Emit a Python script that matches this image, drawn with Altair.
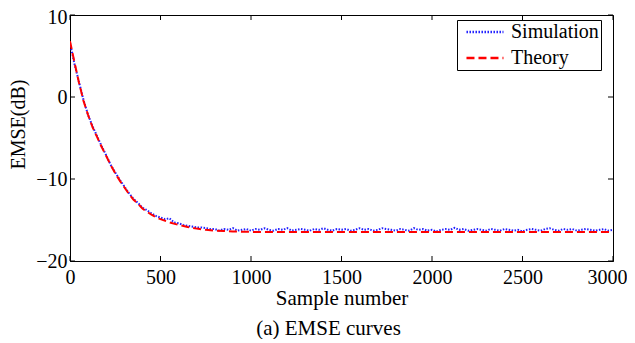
import altair as alt
import pandas as pd

# ---- data ----
sim_n = list(range(0, 3001, 25))
sim_db = [6.6, 4.0, 1.8, -0.4, -2.2, -3.6, -4.8, -6.0, -7.1, -8.3,
          -9.2, -10.1, -10.9, -11.7, -12.4, -12.9, -13.5, -13.8, -14.2, -14.5,
          -14.7, -14.9, -14.8, -15.3, -15.4, -15.6, -15.7, -15.8, -15.9, -15.9,
          -16.0, -16.1, -16.1, -16.3, -16.1, -16.2, -16.0, -16.3, -16.2, -16.1,
          -16.3, -16.1, -16.2, -16.0, -16.2, -16.3, -16.1, -16.2, -16.0, -16.3,
          -16.2, -16.1, -16.2, -16.3, -16.1, -16.2, -16.0, -16.2, -16.3, -16.1,
          -16.2, -16.1, -16.3, -16.2, -16.0, -16.2, -16.1, -16.3, -16.2, -16.0,
          -16.1, -16.2, -16.3, -16.1, -16.2, -16.3, -16.0, -16.2, -16.1, -16.3,
          -16.2, -16.4, -16.2, -16.1, -16.2, -15.95, -16.2, -16.1, -16.3, -16.2,
          -16.1, -16.2, -16.3, -16.1, -16.2, -16.3, -16.1, -16.2, -16.3, -16.2,
          -16.4, -16.2, -16.1, -16.2, -16.3, -16.1, -16.0, -16.2, -16.3, -16.1,
          -16.2, -16.1, -16.3, -16.2, -16.1, -16.2, -16.3, -16.2, -16.1, -16.3,
          -16.2]
assert len(sim_n) == len(sim_db)

theory_n = [0, 25, 50, 75, 100, 125, 150, 175, 200, 225, 250, 275, 300, 325, 350,
            375, 400, 425, 450, 475, 500, 550, 600, 650, 700, 750, 800, 850, 900,
            1000, 1200, 1500, 2000, 2500, 3000]
theory_db = [6.8, 4.2, 1.7, -0.5, -2.2, -3.7, -4.9, -6.1, -7.2, -8.3, -9.3, -10.2,
             -11.0, -11.8, -12.5, -13.0, -13.6, -14.0, -14.35, -14.65, -14.9, -15.3,
             -15.6, -15.85, -16.05, -16.2, -16.3, -16.35, -16.4, -16.45, -16.45,
             -16.45, -16.45, -16.45, -16.45]

series_names = ["Simulation", "Theory"]
series_colors = ["#2020ff", "#ff0000"]
series_dashes = [[1.5, 1.5], [8, 4]]

x_ticks = [0, 500, 1000, 1500, 2000, 2500, 3000]
y_ticks = [-20, -10, 0, 10]

W, H = 543, 246
FONT = "Liberation Serif"

df = pd.concat([
    pd.DataFrame({"n": sim_n, "db": sim_db, "series": series_names[0]}),
    pd.DataFrame({"n": theory_n, "db": theory_db, "series": series_names[1]}),
], ignore_index=True)

xscale = alt.Scale(domain=[0, 3000], nice=False, zero=False)
yscale = alt.Scale(domain=[-20, 10], nice=False, zero=False)

lines = alt.Chart(df).mark_line(clip=True, strokeWidth=2).encode(
    x=alt.X("n:Q", scale=xscale,
            axis=alt.Axis(values=x_ticks, title="Sample number", tickSize=0,
                          labelPadding=6, titlePadding=0, format="d",
                          labelFlush=False, titleFontSize=21,
                          labelOffset=alt.condition("datum.value == 3000",
                                                    alt.value(-6), alt.value(0)))),
    y=alt.Y("db:Q", scale=yscale,
            axis=alt.Axis(values=y_ticks, title="EMSE(dB)", tickSize=0,
                          labelPadding=3, titlePadding=7, titleY=109,
                          labelFlush=False,
                          labelOffset=alt.condition("datum.value == 10",
                                                    alt.value(2), alt.value(0)))),
    color=alt.Color("series:N",
                    scale=alt.Scale(domain=series_names, range=series_colors),
                    legend=alt.Legend(title=None, orient="none", legendX=387, legendY=5,
                                      symbolType="M -0.28 0 H 3.83", symbolSize=324,
                                      symbolStrokeWidth=2.5,
                                      labelFont=FONT, labelFontSize=20,
                                      labelColor="black", labelOffset=31.5,
                                      strokeColor="black", fillColor="white",
                                      padding=1.5, rowPadding=5)),
    strokeDash=alt.StrokeDash("series:N",
                              scale=alt.Scale(domain=series_names, range=series_dashes),
                              legend=alt.Legend(title=None)),
)

xt = pd.DataFrame({"v": x_ticks})
yt = pd.DataFrame({"v": y_ticks})
tick_style = dict(color="black", strokeWidth=1)

bt = alt.Chart(xt).mark_rule(**tick_style).encode(
    x=alt.X("v:Q", scale=xscale), y=alt.value(H), y2=alt.value(H - 5))
tt = alt.Chart(xt).mark_rule(**tick_style).encode(
    x=alt.X("v:Q", scale=xscale), y=alt.value(0), y2=alt.value(5))
lt = alt.Chart(yt).mark_rule(**tick_style).encode(
    y=alt.Y("v:Q", scale=yscale), x=alt.value(0), x2=alt.value(5))
rt = alt.Chart(yt).mark_rule(**tick_style).encode(
    y=alt.Y("v:Q", scale=yscale), x=alt.value(W), x2=alt.value(W - 5))

chart = alt.layer(bt, tt, lt, rt, lines).properties(
    width=W, height=H,
    autosize=alt.AutoSizeParams(type="none"),
    padding={"left": 62, "top": 7, "right": 14, "bottom": 78},
    title=alt.TitleParams("(a) EMSE curves", orient="bottom", anchor="middle",
                          dx=-13, offset=10, font=FONT, fontSize=21,
                          fontWeight="normal", color="black"),
).configure_axis(
    grid=False, domainColor="black", domainWidth=1,
    labelFont=FONT, labelFontSize=20, labelColor="black",
    titleFont=FONT, titleFontSize=20, titleColor="black", titleFontWeight="normal",
).configure_view(stroke="black", strokeWidth=1)

chart.save("out.html", embed_options={"renderer": "svg", "actions": False})
